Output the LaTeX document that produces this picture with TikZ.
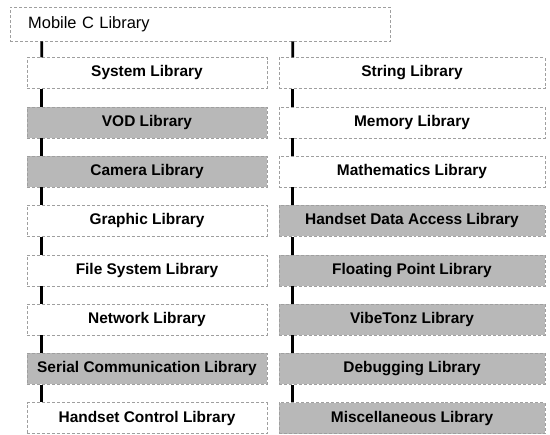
\documentclass[tikz,border=0pt]{standalone}
\usepackage{fontspec}
\setmainfont{Liberation Sans}
\usetikzlibrary{calc}
\colorlet{libPlain}{white}
\colorlet{libShade}{black!28}

\tikzset{
  libbox/.style={draw=gray!75, densely dashed, thin, minimum height=31bp,
    inner sep=0pt, font=\bfseries\fontsize{15.5}{17}\selectfont},
  leftlib/.style={libbox, minimum width=240bp},
  rightlib/.style={libbox, minimum width=266bp},
  link/.style={line width=2.8bp, black}
}

\begin{document}
\begin{tikzpicture}[x=1bp, y=-1bp]
  \useasboundingbox (0,0) rectangle (550,435);

  %% --- Root box ---
  \node[libbox, anchor=north west, minimum width=380bp, minimum height=34bp,
    text width=344bp, align=left, inner xsep=18bp,
    font=\fontsize{16.5}{18}\selectfont] (mcl) at (10,7) {Mobile C Library};

  %% --- Left column ---
  \foreach \nm/\txt/\fl [count=\i] in {
      sys/System Library/libPlain,
      vod/VOD Library/libShade,
      cam/Camera Library/libShade,
      gfx/Graphic Library/libPlain,
      fsys/File System Library/libPlain,
      net/Network Library/libPlain,
      ser/Serial Communication Library/libShade,
      hctl/Handset Control Library/libPlain} {
    \node[leftlib, fill=\fl] (\nm) at (147, {73+49.3*(\i-1)}) {\txt};
  }

  %% --- Right column ---
  \foreach \nm/\txt/\fl [count=\i] in {
      str/String Library/libPlain,
      mem/Memory Library/libPlain,
      math/Mathematics Library/libPlain,
      hdata/Handset Data Access Library/libShade,
      fpt/Floating Point Library/libShade,
      vibe/VibeTonz Library/libShade,
      dbg/Debugging Library/libShade,
      misc/Miscellaneous Library/libShade} {
    \node[rightlib, fill=\fl] (\nm) at (412, {73+49.3*(\i-1)}) {\txt};
  }

  %% --- Links from root ---
  \draw[link] ($(sys.north west |- mcl.south)+(15,0)$) -- ([xshift=15bp]sys.north west);
  \draw[link] ($(str.north west |- mcl.south)+(14,0)$) -- ([xshift=14bp]str.north west);

  %% --- Links down each column ---
  \foreach \a/\b in {sys/vod, vod/cam, cam/gfx, gfx/fsys, fsys/net, net/ser, ser/hctl}
    \draw[link] ([xshift=15bp]\a.south west) -- ([xshift=15bp]\b.north west);
  \foreach \a/\b in {str/mem, mem/math, math/hdata, hdata/fpt, fpt/vibe, vibe/dbg, dbg/misc}
    \draw[link] ([xshift=14bp]\a.south west) -- ([xshift=14bp]\b.north west);
\end{tikzpicture}
\end{document}
